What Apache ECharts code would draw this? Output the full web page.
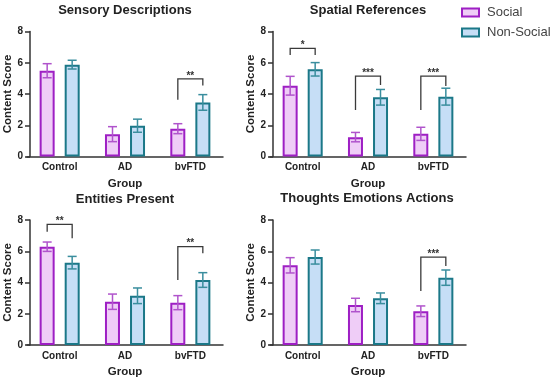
<!DOCTYPE html>
<html>
<head>
<meta charset="utf-8">
<script src="https://cdn.jsdelivr.net/npm/echarts@6/dist/echarts.min.js"></script>
<style>html,body{margin:0;padding:0;background:#fff;}#c{width:550px;height:381px;}</style>
</head>
<body>
<div id="c"></div>
<script>
const categories = ['Control', 'AD', 'bvFTD'];
const panelTitles = ['Sensory Descriptions', 'Spatial References', 'Entities Present', 'Thoughts Emotions Actions'];
const seriesNames = ['Social', 'Non-Social'];
const yTicks = [0, 2, 4, 6, 8];

const sensorySocial = [5.49, 1.43, 1.78];
const sensorySocialErr = [0.45, 0.48, 0.32];
const sensoryNonSocial = [5.88, 1.97, 3.46];
const sensoryNonSocialErr = [0.28, 0.42, 0.50];
const sensoryBrackets = [[2, 3.63, 4.97, 4.55, '**']];

const spatialSocial = [4.53, 1.24, 1.45];
const spatialSocialErr = [0.60, 0.30, 0.42];
const spatialNonSocial = [5.58, 3.79, 3.83];
const spatialNonSocialErr = [0.43, 0.50, 0.54];
const spatialBrackets = [[0, 6.49, 6.92, 6.49, '*'], [1, 2.98, 5.15, 4.58, '***'], [2, 2.98, 5.15, 4.51, '***']];

const entitiesSocial = [6.29, 2.77, 2.71];
const entitiesSocialErr = [0.30, 0.49, 0.45];
const entitiesNonSocial = [5.27, 3.15, 4.16];
const entitiesNonSocialErr = [0.40, 0.50, 0.47];
const entitiesBrackets = [[0, 7.25, 7.72, 6.83, '**'], [2, 4.16, 6.29, 5.87, '**']];

const thoughtsSocial = [5.10, 2.56, 2.16];
const thoughtsSocialErr = [0.49, 0.43, 0.34];
const thoughtsNonSocial = [5.63, 2.99, 4.31];
const thoughtsNonSocialErr = [0.45, 0.34, 0.49];
const thoughtsBrackets = [[2, 3.46, 5.63, 5.05, '***']];

const panels = [
  [sensorySocial, sensorySocialErr, sensoryNonSocial, sensoryNonSocialErr, sensoryBrackets],
  [spatialSocial, spatialSocialErr, spatialNonSocial, spatialNonSocialErr, spatialBrackets],
  [entitiesSocial, entitiesSocialErr, entitiesNonSocial, entitiesNonSocialErr, entitiesBrackets],
  [thoughtsSocial, thoughtsSocialErr, thoughtsNonSocial, thoughtsNonSocialErr, thoughtsBrackets]
];

const FONT = '"Liberation Sans", Arial, sans-serif';
const AXIS = '#333333';
const socialFill = '#EFCDF7', socialBorder = '#9E1FC4', socialErr = '#B054CC';
const nonFill = '#C6DEF6', nonBorder = '#1B7888', nonErr = '#3A8E9E';
const BAR_OFF = 12.5;

const gridPos = [
  {left: 27, top: 31.5},
  {left: 270, top: 31.5},
  {left: 27, top: 220},
  {left: 270, top: 220}
];
const titlePos = [
  {left: 125, top: 4},
  {left: 368, top: 4},
  {left: 125, top: 193},
  {left: 367, top: 192}
];

const chart = echarts.init(document.getElementById('c'), null, {renderer: 'canvas'});

const grid = [], xAxis = [], yAxis = [], title = [], series = [];

function errorRenderer(offset, color) {
  return function (params, api) {
    const idx = api.value(0), m = api.value(1), e = api.value(2);
    const p = api.coord([idx, m]);
    const x = p[0] + offset;
    const yt = api.coord([idx, m + e])[1];
    const yb = api.coord([idx, m - e])[1];
    const st = {stroke: color, lineWidth: 1.5};
    return {type: 'group', children: [
      {type: 'line', shape: {x1: x, y1: yt, x2: x, y2: yb}, style: st},
      {type: 'line', shape: {x1: x - 4.5, y1: yt, x2: x + 4.5, y2: yt}, style: st},
      {type: 'line', shape: {x1: x - 4.5, y1: yb, x2: x + 4.5, y2: yb}, style: st}
    ]};
  };
}

function bracketRenderer(brackets) {
  return function (params, api) {
    const b = brackets[params.dataIndex];
    const idx = b[0];
    const cx = api.coord([idx, 0])[0];
    const xl = cx - BAR_OFF, xr = cx + BAR_OFF;
    const yl = api.coord([idx, b[1]])[1];
    const yt = api.coord([idx, b[2]])[1];
    const yr = api.coord([idx, b[3]])[1];
    return {type: 'group', children: [
      {type: 'polyline', shape: {points: [[xl, yl], [xl, yt], [xr, yt], [xr, yr]]},
        style: {stroke: '#3a3a3a', lineWidth: 1.3, fill: null}},
      {type: 'text', style: {text: b[4], x: cx, y: yt - 3, align: 'center', verticalAlign: 'middle',
        fill: '#333', font: 'bold 10px ' + FONT}}
    ]};
  };
}

panels.forEach((p, i) => {
  const [s, se, n, ne, br] = p;
  grid.push({left: gridPos[i].left, top: gridPos[i].top, width: 196, height: 125});
  title.push({text: panelTitles[i], left: titlePos[i].left, top: titlePos[i].top, textAlign: 'center', padding: 0,
    textStyle: {fontFamily: FONT, fontSize: 13, fontWeight: 'bold', color: '#222'}});
  xAxis.push({type: 'category', gridIndex: i, data: categories,
    name: 'Group', nameLocation: 'middle', nameGap: 21,
    nameTextStyle: {fontFamily: FONT, fontSize: 11.5, fontWeight: 'bold', color: '#222'},
    axisLine: {lineStyle: {color: AXIS, width: 1.5}},
    axisTick: {alignWithLabel: true, length: 4, lineStyle: {color: AXIS, width: 1.5}},
    axisLabel: {margin: 6, fontFamily: FONT, fontSize: 10, fontWeight: 'bold', color: '#222'}});
  yAxis.push({type: 'value', gridIndex: i, min: yTicks[0], max: yTicks[yTicks.length - 1], interval: 2, offset: -3,
    name: 'Content Score', nameLocation: 'middle', nameGap: 16,
    nameTextStyle: {fontFamily: FONT, fontSize: 11.5, fontWeight: 'bold', color: '#222'},
    axisLine: {show: true, lineStyle: {color: AXIS, width: 1.5}},
    axisTick: {show: true, length: 5, lineStyle: {color: AXIS, width: 1.5}},
    splitLine: {show: false},
    axisLabel: {margin: 7, fontFamily: FONT, fontSize: 10, fontWeight: 'bold', color: '#222'}});
  series.push({name: seriesNames[0], type: 'bar', xAxisIndex: i, yAxisIndex: i, data: s,
    barWidth: 15, barGap: '67%',
    itemStyle: {color: socialFill, borderColor: socialBorder, borderWidth: 2}});
  series.push({name: seriesNames[1], type: 'bar', xAxisIndex: i, yAxisIndex: i, data: n,
    barWidth: 15, barGap: '67%',
    itemStyle: {color: nonFill, borderColor: nonBorder, borderWidth: 2}});
  series.push({name: 'Social SEM', type: 'custom', xAxisIndex: i, yAxisIndex: i, z: 5,
    data: s.map((v, k) => [k, v, se[k]]), encode: {x: 0, y: 1},
    renderItem: errorRenderer(-BAR_OFF, socialErr)});
  series.push({name: 'Non-Social SEM', type: 'custom', xAxisIndex: i, yAxisIndex: i, z: 5,
    data: n.map((v, k) => [k, v, ne[k]]), encode: {x: 0, y: 1},
    renderItem: errorRenderer(BAR_OFF, nonErr)});
  series.push({name: 'Significance', type: 'custom', xAxisIndex: i, yAxisIndex: i, z: 6,
    data: br.map(b => [b[0], b[2]]), encode: {x: 0, y: 1},
    renderItem: bracketRenderer(br)});
});

chart.setOption({
  animation: false,
  backgroundColor: '#ffffff',
  title: title,
  legend: {data: seriesNames, orient: 'vertical', left: 456, top: 1, itemWidth: 17, itemHeight: 8, itemGap: 7,
    icon: 'rect',
    textStyle: {fontFamily: FONT, fontSize: 13, color: '#444', padding: [0, 0, 0, 3]}},
  grid: grid,
  xAxis: xAxis,
  yAxis: yAxis,
  series: series
});
</script>
</body>
</html>
